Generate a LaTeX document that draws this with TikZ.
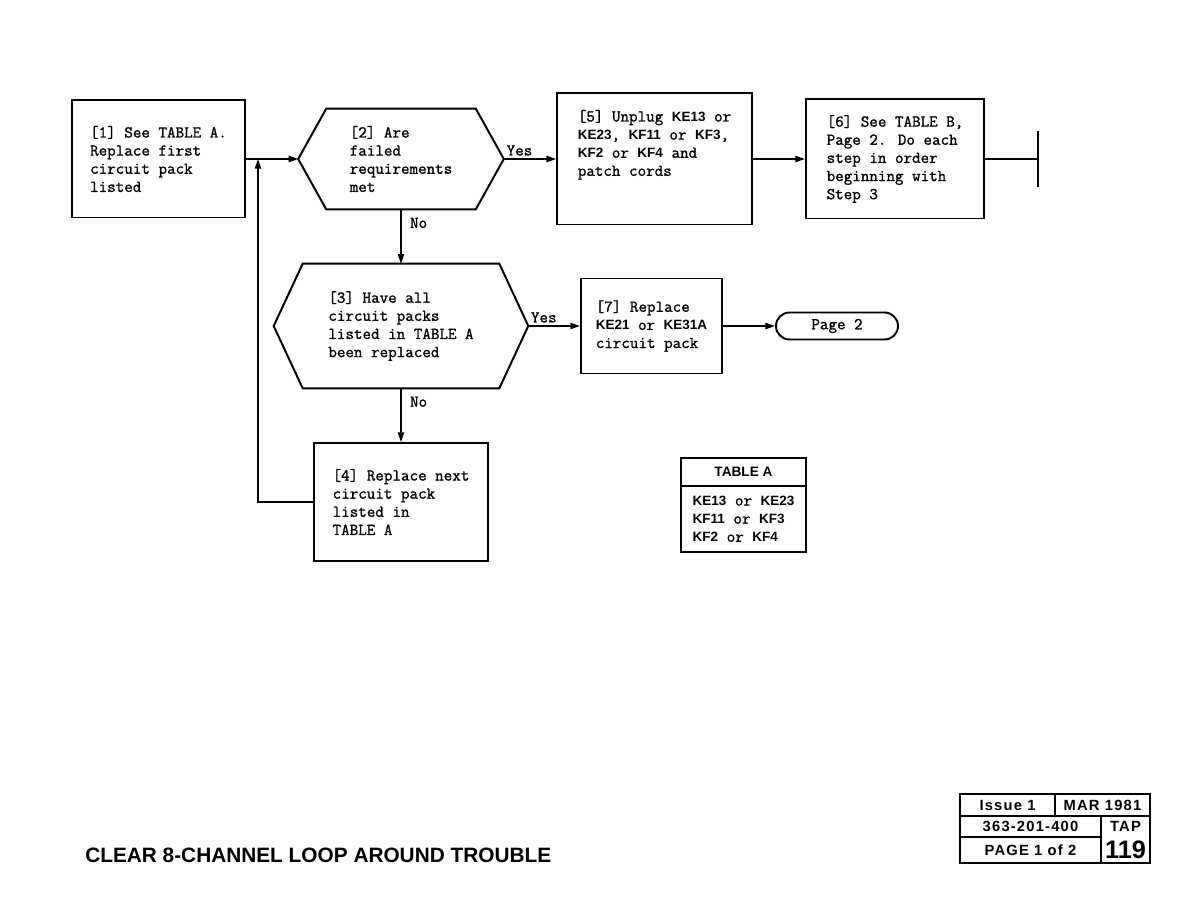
\documentclass[tikz,border=0pt]{standalone}
\usepackage{fontspec}
\usepackage{tikz}
\usetikzlibrary{arrows.meta,positioning,shapes.misc,calc}
\newfontfamily\kpfont{Liberation Sans}
\newfontfamily\typer{Latin Modern Mono}[FakeBold=1.2]
\newfontfamily\capfont{Liberation Sans}[LetterSpace=8]
\newcommand{\kp}[1]{{\kpfont\bfseries\fontsize{9.6}{12.9}\selectfont #1}}

\begin{document}
\begin{tikzpicture}[
  x=0.025cm, y=-0.025cm,
  txt/.style={font=\typer\fontsize{11.8}{12.9}\selectfont},
  box/.style={txt, draw, line width=1.4pt, align=left, inner sep=0pt},
  hexa/.style={txt, align=left, inner sep=0pt},
  term/.style={txt, draw, rounded rectangle, line width=1.4pt, minimum width=3.05cm, minimum height=0.675cm, inner sep=0pt},
  flow/.style={-{Triangle[length=2.4mm,width=1.6mm]}, line width=0.9pt},
  lbl/.style={txt, inner sep=2pt},
  cell/.style={draw, line width=1.3pt, inner sep=0pt, font=\capfont\bfseries\fontsize{10.5}{12}\selectfont}
]
\useasboundingbox (0,0) rectangle (1188,918);

% upper row
\node[box, minimum width=4.325cm, minimum height=2.925cm] (q1) at (158.5,159) {[1] See TABLE A.\\Replace first\\circuit pack\\listed};
\node[hexa, minimum width=5.125cm, minimum height=2.5cm] (q2) at (401,159) {[2] Are\\failed\\requirements\\met};
\node[box, minimum width=4.875cm, minimum height=3.275cm] (q5) at (654.5,159) {[5] Unplug \kp{KE13} or\\\kp{KE23}, \kp{KF11} or \kp{KF3},\\\kp{KF2} or \kp{KF4} and\\patch cords\\[0.35cm]~};
\node[box, minimum width=4.45cm, minimum height=2.975cm] (q6) at (895,159) {[6] See TABLE B,\\Page 2. Do each\\step in order\\beginning with\\Step 3};
\coordinate (stop) at (1038,159);

% middle row
\node[hexa, minimum width=6.35cm, minimum height=3.1cm] (q3) at (401,326) {[3] Have all\\circuit packs\\listed in TABLE A\\been replaced};
\node[box, minimum width=3.525cm, minimum height=2.375cm] (q7) at (651.5,326) {[7] Replace\\\kp{KE21} or \kp{KE31A}\\circuit pack};
\node[term] (page2) at (837,326) {Page 2};

% lower row
\node[box, minimum width=4.325cm, minimum height=2.95cm] (q4) at (401,502) {[4] Replace next\\circuit pack\\listed in\\TABLE A};
\coordinate (join) at (258,159);

% hexagons
\draw[line width=1.4pt] (q2.west) -- ($(q2.north west)+(28,0)$) -- ($(q2.north east)+(-28,0)$) -- (q2.east)
  -- ($(q2.south east)+(-28,0)$) -- ($(q2.south west)+(28,0)$) -- cycle;
\draw[line width=1.4pt] (q3.west) -- ($(q3.north west)+(29,0)$) -- ($(q3.north east)+(-29,0)$) -- (q3.east)
  -- ($(q3.south east)+(-29,0)$) -- ($(q3.south west)+(29,0)$) -- cycle;

% table A
\node[cell, minimum width=3.125cm, minimum height=0.7cm, font=\kpfont\bfseries\fontsize{9.7}{12}\selectfont] (tabhead) at (743.5,472) {TABLE A};
\node[box, line width=1.3pt, minimum width=3.125cm, minimum height=1.65cm] (tabbody) at (743.5,519) {\kp{KE13} or \kp{KE23}\\\kp{KF11} or \kp{KF3}\\\kp{KF2} or \kp{KF4}};

% connectors
\draw[flow] (q1.east) -- (q2.west);
\draw[flow] (q2.east) -- node[lbl, above, pos=0.3] {Yes} (q5.west);
\draw[flow] (q5.east) -- (q6.west);
\draw[line width=0.9pt] (q6.east) -- (stop);
\draw[line width=2pt] ($(stop)+(0,-28)$) -- ($(stop)+(0,28)$);
\draw[flow] (q2.south) -- node[lbl, right=4pt, pos=0.25] {No} (q3.north);
\draw[flow] (q3.east) -- node[lbl, above, pos=0.3] {Yes} (q7.west);
\draw[flow] (q7.east) -- (page2.west);
\draw[flow] (q3.south) -- node[lbl, right=4pt, pos=0.25] {No} (q4.north);
\draw[flow] (q4.west) -| (join);

% footer
\node[anchor=west, inner sep=0pt, font=\kpfont\bfseries\fontsize{14.8}{16}\selectfont] (title) at (85,855) {CLEAR 8-CHANNEL LOOP AROUND TROUBLE};
\node[cell, minimum width=2.375cm, minimum height=0.55cm] (issue) at (1007.5,805) {Issue 1};
\node[cell, minimum width=2.375cm, minimum height=0.55cm] (date) at (1102.5,805) {MAR 1981};
\node[cell, minimum width=3.525cm, minimum height=0.525cm] (docno) at (1030.5,826.5) {363-201-400};
\node[cell, minimum width=3.525cm, minimum height=0.65cm] (pageno) at (1030.5,850) {PAGE 1 of 2};
\node[cell, minimum width=1.225cm, minimum height=1.175cm] (tapcell) at (1125.5,839.5) {};
\node[cell, draw=none] (taplbl) at (1125.5,826.5) {TAP};
\node[cell, draw=none, font=\kpfont\bfseries\fontsize{18}{20}\selectfont] (tapno) at (1125.5,850) {119};
\end{tikzpicture}
\end{document}
